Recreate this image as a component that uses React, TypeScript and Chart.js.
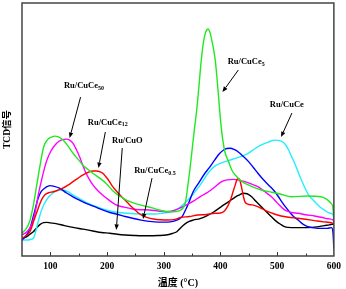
import React, { useEffect, useRef } from 'react';
import { Chart, registerables } from 'chart.js';

Chart.register(...registerables);

// ---- data (temperature °C, TCD signal a.u.) ----
const cuCe5Temp = [50, 58, 64, 70, 76, 82, 88, 95, 102, 108, 115, 123, 131, 140, 149, 157, 166, 175, 187, 198, 210, 220, 235, 250, 265, 280, 295, 310, 322, 330, 338, 342, 346, 350, 354, 358, 362, 366, 370, 374, 378, 382, 385, 388, 391, 394, 397, 400, 404, 408, 414, 420, 426, 438, 449, 460, 472, 490, 505, 525, 554, 577, 587, 595, 598, 600];
const cuCe5Signal = [9.0, 11, 14, 20, 28, 36, 43, 46, 47, 47.4, 47, 45.8, 43.5, 40.6, 38.2, 36, 34.3, 32.7, 30.8, 28.8, 25.8, 24, 22, 20.7, 19.8, 19.0, 18.0, 17.5, 17.6, 18.2, 21, 27, 34, 42, 50, 57.5, 67, 77, 84.5, 88.5, 89.7, 88, 85, 81.5, 77, 70, 62, 54, 46, 41, 37.5, 34, 32, 29.4, 28.1, 27, 26.1, 25.2, 24.5, 23.4, 23.7, 23.4, 22.5, 20.8, 19.5, 15];

const cuCe50Temp = [50, 58, 67, 73, 78.5, 85, 93, 101, 110.7, 119, 128, 134, 140, 146, 151.5, 157, 163, 169, 175, 183, 192, 204, 216, 230, 245, 260, 274, 290, 304, 315, 327, 340, 353, 365, 379, 390, 402, 412, 423, 433, 443, 455, 466, 478, 490, 500, 513, 525, 537, 550, 566, 580, 590, 599, 600];
const cuCe50Signal = [8.3, 9.5, 12.3, 17, 24, 30.5, 37.3, 41.5, 44.5, 45.8, 46.2, 45.8, 44.5, 42, 39.2, 36, 32.7, 30.2, 28.1, 26, 24.1, 22, 20.2, 19.3, 18.6, 18.3, 18.2, 17.8, 17.5, 17.8, 18.8, 20.2, 21.8, 23.6, 25.4, 27.3, 29.4, 30.1, 30.3, 30, 29.4, 28.4, 27.4, 25.5, 23.4, 21, 18.2, 17.2, 16.9, 16.3, 15.8, 15.2, 14.7, 14.2, 13.5];

const cuCe12Temp = [50, 57, 64, 71, 78.5, 84, 90, 97, 105, 113, 122, 131, 140, 149, 157, 166, 175, 182, 187, 193, 198, 204, 210, 216, 222, 232, 240, 248, 258, 270, 282, 295, 307, 320, 330, 345, 360, 375, 390, 400, 407, 414, 419, 423, 426, 429, 431.5, 434, 437, 440, 443, 448, 456, 466, 475, 484, 495, 507, 520, 536, 550, 566, 582, 599, 600];
const cuCe12Signal = [7.0, 8, 9.6, 14, 18.8, 22, 24.1, 25, 25.4, 26, 26.8, 28, 29.4, 30.8, 32, 33, 33.6, 33.6, 33.3, 32.6, 31.3, 29.5, 27.4, 25.8, 24.3, 22, 20.2, 18.5, 16.5, 15.3, 14.6, 14.3, 14.2, 14.5, 15.2, 15.6, 16.2, 16.4, 16.9, 17, 17.8, 20.2, 23, 26, 28, 30.2, 30.7, 30, 27.4, 24, 21.5, 20.5, 20.2, 19.5, 18.5, 17.5, 16.6, 15.8, 15.3, 14.9, 14.5, 14.0, 13.5, 12.9, 12.5];

const cuCe05Temp = [50, 57, 64, 71, 78.5, 84, 90, 95, 99, 107, 116, 128, 140, 152, 163, 178, 192, 205, 218, 232, 245, 260, 274, 290, 306, 318, 327, 333, 339, 345, 352, 362, 372, 380, 390, 398, 405, 411, 417, 425, 432, 440, 450, 458, 466, 475, 485, 496, 505, 512, 519, 528, 537, 546, 554, 565, 577, 588, 596, 598.5, 600];
const cuCe05Signal = [6.3, 8, 10.9, 16.5, 22.8, 25.5, 26.8, 27.5, 27.8, 27.5, 26.8, 25, 23.4, 22, 20.8, 19.5, 18.2, 17.2, 16.5, 15.6, 14.9, 14.2, 13.7, 13.4, 13.4, 13.8, 14.6, 15.8, 18.5, 21.5, 25.5, 29, 32.5, 34.8, 38, 40.4, 41.8, 42.5, 42.6, 42, 41, 39.4, 37.2, 35, 32.7, 30.3, 28, 25.4, 22.5, 20.2, 18.2, 15.8, 14.2, 12.5, 11.6, 11.1, 10.9, 10.9, 11.2, 9, 3];

const cuCeTemp = [50, 60, 66, 70, 74, 78.5, 85, 93, 100, 108, 115, 122, 130, 140, 152, 163, 178, 192, 205, 218, 235, 250, 265, 283, 298, 312, 322, 330, 340, 353, 365, 379, 390, 402, 414, 426, 438, 449, 460, 472, 484, 496, 505, 513, 520, 525, 531, 540, 548, 556, 566, 575, 583, 592, 599, 600];
const cuCeSignal = [6.3, 6.3, 6.6, 7, 9.5, 13.6, 18.5, 22.1, 24, 25.4, 26, 26.1, 25.5, 24.1, 22.6, 21.2, 19.8, 18.6, 17.8, 17.3, 16.9, 16.7, 16.6, 16.6, 16.9, 17.4, 18.2, 19.5, 21.5, 24.8, 28.3, 33, 35.5, 36.8, 37.7, 38.6, 39.5, 40.6, 42.3, 43.9, 45, 45.8, 45.6, 44.5, 42, 39.5, 36.6, 31.5, 27.4, 24, 21.5, 19.5, 18.2, 17, 16.2, 13];

const cuOTemp = [50, 58, 64, 70, 76, 82, 88, 93, 100, 110, 125, 140, 158, 175, 190, 205, 218, 232, 248, 262, 274, 290, 304, 315, 323, 330, 337, 344, 352, 364, 375, 388, 402, 414, 426, 434, 440, 447, 455, 463, 472, 481, 490, 498, 507, 513, 519, 535, 554, 570, 583, 592, 599, 600];
const cuOSignal = [7.0, 7.6, 8.6, 9.6, 11.2, 12.5, 13.2, 13.3, 13.1, 12.8, 12, 11.3, 10.6, 9.9, 9.3, 9.0, 8.6, 8.3, 8.1, 8.0, 8.0, 8.1, 8.3, 8.9, 9.6, 11.2, 12.6, 13.6, 14.2, 14.8, 15.8, 17.4, 19.6, 21.4, 23.3, 24.2, 24.8, 24.6, 23.4, 21.5, 19.5, 17.5, 15.5, 13.8, 12.4, 11.6, 11.3, 11.2, 11.2, 11.5, 12.0, 12.3, 12.6, 12.6];

const xTickLabels = ['100', '200', '300', '400', '500', '600'];

// ---- annotations (label text, subscript, anchor and arrow in data units) ----
const noteMain = ['Ru/CuCe', 'Ru/CuCe', 'Ru/CuO', 'Ru/CuCe', 'Ru/CuCe', 'Ru/CuCe'];
const noteSub = ['50', '12', '', '0.5', '5', ''];
const noteX = [124, 166, 208.7, 247.8, 412.8, 487];
const noteY = [67.4, 52.8, 45.5, 33.6, 76.7, 59.7];
const arrowFromX = [153.3, 197, 226.8, 279.3, 431.5, 526];
const arrowFromY = [62.8, 49, 42.7, 30.8, 73.5, 56.5];
const arrowToX = [134, 184.8, 216.3, 263.5, 403.5, 506.8];
const arrowToY = [46.6, 34.8, 10.3, 14.6, 64.8, 47];

const pts = (t: number[], s: number[]) => t.map((x, i) => ({ x, y: s[i] }));

const framePlugin = {
  id: 'frameAndNotes',
  afterDraw(chart: any) {
    const { ctx, chartArea: a, scales } = chart;
    const xs = scales.x;
    const ys = scales.y;
    ctx.save();
    // inward ticks on the bottom axis
    ctx.strokeStyle = '#333';
    ctx.lineWidth = 1;
    xs.ticks.forEach((t: any) => {
      if (t.value <= xs.min || t.value >= xs.max) return;
      const px = Math.round(xs.getPixelForValue(t.value)) + 0.5;
      const len = t.value % 100 === 0 ? 4 : 2.5;
      ctx.beginPath();
      ctx.moveTo(px, a.bottom);
      ctx.lineTo(px, a.bottom - len);
      ctx.stroke();
    });
    // frame
    ctx.strokeStyle = '#444';
    ctx.lineWidth = 1.5;
    ctx.strokeRect(a.left, a.top, a.right - a.left, a.bottom - a.top);
    // annotations
    ctx.fillStyle = '#000';
    ctx.strokeStyle = '#000';
    ctx.lineWidth = 1;
    ctx.textBaseline = 'middle';
    ctx.textAlign = 'left';
    for (let i = 0; i < noteMain.length; i++) {
      const px = xs.getPixelForValue(noteX[i]);
      const py = ys.getPixelForValue(noteY[i]);
      ctx.font = 'bold 8.5px "Liberation Serif", "Times New Roman", serif';
      ctx.fillText(noteMain[i], px, py);
      if (noteSub[i]) {
        const w = ctx.measureText(noteMain[i]).width;
        ctx.font = 'bold 6px "Liberation Serif", "Times New Roman", serif';
        ctx.fillText(noteSub[i], px + w, py + 2.5);
      }
      const fx = xs.getPixelForValue(arrowFromX[i]);
      const fy = ys.getPixelForValue(arrowFromY[i]);
      const tx = xs.getPixelForValue(arrowToX[i]);
      const ty = ys.getPixelForValue(arrowToY[i]);
      const ang = Math.atan2(ty - fy, tx - fx);
      const hl = 5.5;
      const hw = 2.2;
      const bx = tx - hl * Math.cos(ang);
      const by = ty - hl * Math.sin(ang);
      ctx.beginPath();
      ctx.moveTo(fx, fy);
      ctx.lineTo(bx, by);
      ctx.stroke();
      ctx.beginPath();
      ctx.moveTo(tx, ty);
      ctx.lineTo(bx + hw * Math.sin(ang), by - hw * Math.cos(ang));
      ctx.lineTo(bx - hw * Math.sin(ang), by + hw * Math.cos(ang));
      ctx.closePath();
      ctx.fill();
    }
    ctx.restore();
  },
};

export default function App() {
  const ref = useRef<HTMLCanvasElement | null>(null);
  useEffect(() => {
    if (!ref.current) return;
    const mk = (label: string, t: number[], s: number[], color: string) => ({
      label,
      data: pts(t, s),
      borderColor: color,
      backgroundColor: color,
      borderWidth: 1.4,
      pointRadius: 0,
      fill: false,
      cubicInterpolationMode: 'monotone' as const,
    });
    const chart = new Chart(ref.current, {
      type: 'line',
      data: {
        datasets: [
          mk('Ru/CuCe5', cuCe5Temp, cuCe5Signal, '#22e822'),
          mk('Ru/CuCe12', cuCe12Temp, cuCe12Signal, '#ff0000'),
          mk('Ru/CuCe50', cuCe50Temp, cuCe50Signal, '#ff00ff'),
          mk('Ru/CuCe0.5', cuCe05Temp, cuCe05Signal, '#0000ff'),
          mk('Ru/CuCe', cuCeTemp, cuCeSignal, '#22eeff'),
          mk('Ru/CuO', cuOTemp, cuOSignal, '#000000'),
        ],
      },
      options: {
        animation: false,
        responsive: false,
        devicePixelRatio: 1,
        layout: { padding: { left: 0, right: 9, top: 3, bottom: 0 } },
        plugins: { legend: { display: false }, tooltip: { enabled: false } },
        scales: {
          x: {
            type: 'linear',
            min: 50,
            max: 600,
            grid: { display: false, drawTicks: false },
            border: { display: false },
            ticks: {
              stepSize: 50,
              padding: 5,
              color: '#000',
              font: { family: '"Liberation Serif", serif', size: 9.5, weight: 'bold' },
              callback: (v: any) => (xTickLabels.includes(String(v)) ? String(v) : ''),
              maxRotation: 0,
              autoSkip: false,
            },
            title: {
              display: true,
              text: '温度 (°C)',
              color: '#000',
              padding: { top: 0, bottom: 0 },
              font: { family: '"Liberation Serif", "Noto Sans CJK SC", serif', size: 10, weight: 'bold' },
            },
            afterFit: (axis: any) => { axis.height = 33; },
          },
          y: {
            min: 0,
            max: 100,
            grid: { display: false, drawTicks: false },
            border: { display: false },
            ticks: { display: false },
            title: {
              display: true,
              text: 'TCD信号',
              color: '#000',
              padding: { top: 1.5, bottom: 0 },
              font: { family: '"Liberation Serif", "Noto Sans CJK SC", serif', size: 9.5, weight: 'bold' },
            },
            afterFit: (axis: any) => { axis.width = 22; },
          },
        },
      },
      plugins: [framePlugin],
    });
    return () => chart.destroy();
  }, []);
  return (
    <div style={{ position: 'fixed', left: 0, top: 0, width: 346, height: 289, background: '#fff' }}>
      <canvas ref={ref} width={346} height={289} style={{ width: 346, height: 289 }} />
    </div>
  );
}
